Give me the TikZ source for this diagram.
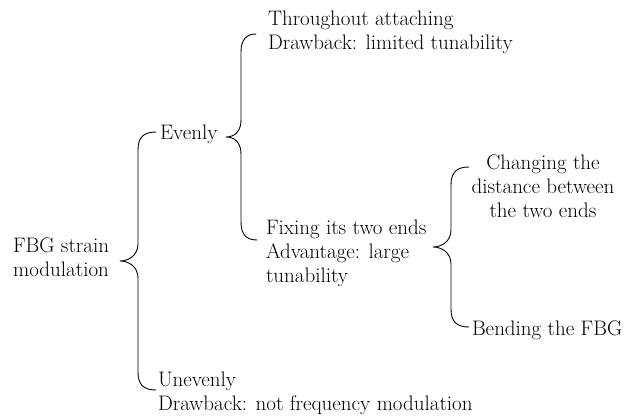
\documentclass[tikz,border=0pt]{standalone}
\usetikzlibrary{calc}
\tikzset{
  lbl/.style={inner sep=0pt, outer sep=0pt, font=\fontsize{21pt}{24pt}\selectfont},
  lblL/.style={lbl, align=left, anchor=base west},
  lblC/.style={lbl, align=center, anchor=base},
  brc/.style={draw=black, line width=0.9pt, line cap=round, line join=round}
}
\newcommand\bracepath[3]{%
  \path[brc] let \p1=(#1), \p2=(#2), \p3=(#3), \n1={(\x1+\x2)/2} in
    (\p1) .. controls (\n1+6pt,\y1) and (\n1,\y1-5pt) .. (\n1,\y1-18pt)
    -- (\n1,\y2+17pt) .. controls (\n1,\y2+6pt) and (\x2+9pt,\y2) .. (\p2)
    .. controls (\x2+9pt,\y2) and (\n1,\y2-6pt) .. (\n1,\y2-17pt)
    -- (\n1,\y3+18pt) .. controls (\n1,\y3+5pt) and (\n1+6pt,\y3) .. (\p3);}
\begin{document}
\begin{tikzpicture}[x=1pt, y=-1pt]
\useasboundingbox (0,0) rectangle (629,419);
% text nodes (base anchor = baseline of the last line)
\node[lblC] (root) at (61,277) {FBG strain\\modulation};
\node[lblL] (even) at (160,140) {Evenly};
\node[lblL] (uneven) at (158,410) {Unevenly\\Drawback: not frequency modulation};
\node[lblL] (thr) at (268,50) {Throughout attaching\\Drawback: limited tunability};
\node[lblL] (fix) at (266,283) {Fixing its two ends\\Advantage: large\\tunability};
\node[lblC] (chg) at (543,218) {Changing the\\distance between\\the two ends};
\node[lblL] (bend) at (472,336) {Bending the FBG};
% brace points
\coordinate (b1t) at (156,132);
\coordinate (b1p) at (120,261);
\coordinate (b1b) at (156,390);
\coordinate (b2t) at (256,34);
\coordinate (b2p) at (226,137);
\coordinate (b2b) at (257,240);
\coordinate (b3t) at (469,167);
\coordinate (b3p) at (433,247);
\coordinate (b3b) at (469,327);
\bracepath{b1t}{b1p}{b1b}
\bracepath{b2t}{b2p}{b2b}
\bracepath{b3t}{b3p}{b3b}
\end{tikzpicture}
\end{document}
